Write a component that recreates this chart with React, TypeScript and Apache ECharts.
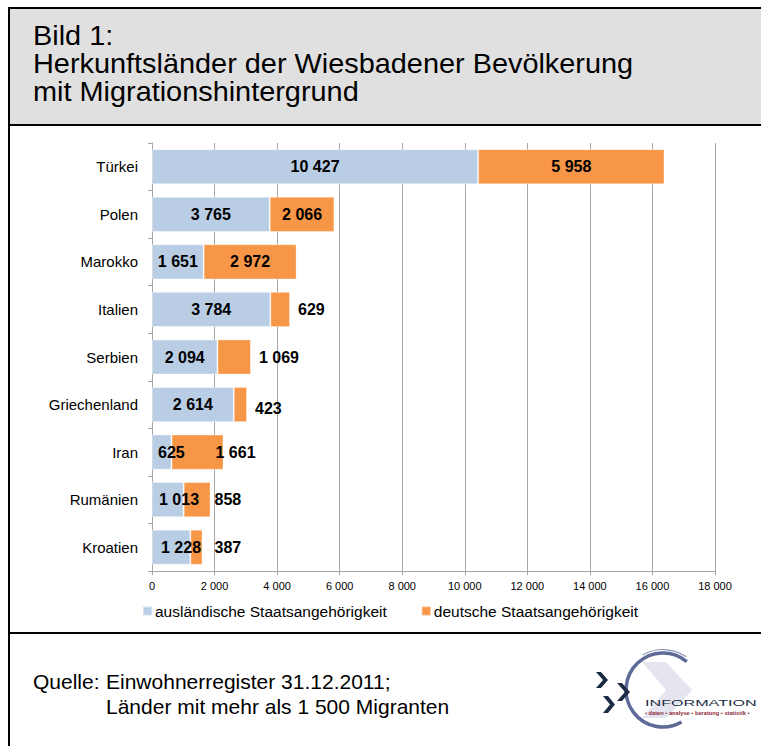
import React, { useEffect, useRef } from "react";
import * as echarts from "echarts";

const categories = ["Türkei", "Polen", "Marokko", "Italien", "Serbien", "Griechenland", "Iran", "Rumänien", "Kroatien"];
const foreignValues = [10427, 3765, 1651, 3784, 2094, 2614, 625, 1013, 1228];
const germanValues = [5958, 2066, 2972, 629, 1069, 423, 1661, 858, 387];
const seriesNames = ["ausländische Staatsangehörigkeit", "deutsche Staatsangehörigkeit"];
const xTicks = { min: 0, max: 18000, interval: 2000 };

const titleLines = ["Bild 1:", "Herkunftsländer der Wiesbadener Bevölkerung", "mit Migrationshintergrund"];
const sourceLabel = "Quelle:";
const sourceLines = ["Einwohnerregister 31.12.2011;", "Länder mit mehr als 1 500 Migranten"];

const fmt = (v: number) => String(v).replace(/\B(?=(\d{3})+(?!\d))/g, " ");

// label placement tweaks (style only)
const foreignLabelOverrides: Record<number, any> = {
  6: { position: "insideLeft", distance: 6 },
  7: { position: "insideLeft", distance: 7 },
  8: { position: "insideLeft", distance: 9 },
};
const germanLabelOverrides: Record<number, any> = {
  3: { position: "right", distance: 8 },
  4: { position: "right", distance: 8 },
  5: { position: "right", distance: 8, offset: [0, 4] },
  6: { position: "right", distance: -8 },
  7: { position: "right", distance: 4 },
  8: { position: "right", distance: 12 },
};

const FONT = "'Liberation Sans', Arial, Helvetica, sans-serif";

export default function App() {
  const ref = useRef<HTMLDivElement>(null);

  useEffect(() => {
    document.body.style.margin = "0";
    if (!ref.current) return;
    const chart = echarts.init(ref.current, undefined, { renderer: "svg" });

    const labelBase = {
      show: true,
      fontFamily: FONT,
      fontSize: 16,
      fontWeight: "bold",
      color: "#000",
      formatter: (p: any) => fmt(p.value),
    };

    const foreignData = foreignValues.map((v, i) =>
      foreignLabelOverrides[i] ? { value: v, label: foreignLabelOverrides[i] } : v
    );
    const germanData = germanValues.map((v, i) =>
      germanLabelOverrides[i] ? { value: v, label: germanLabelOverrides[i] } : v
    );

    const navy = "#1E2B47";
    const chevron = (x: number, y: number, w: number, h: number, t: number) => ({
      type: "polygon",
      shape: {
        points: [
          [x, y],
          [x + t, y],
          [x + w, y + h / 2],
          [x + t, y + h],
          [x, y + h],
          [x + w - t, y + h / 2],
        ],
      },
      style: { fill: navy },
      z: 3,
    });

    const titleTexts = titleLines.map((t, i) => ({
      type: "text",
      x: 33,
      y: 35.5 + i * 28,
      scaleX: 1.05,
      scaleY: 1,
      style: { text: t, font: `27.5px ${FONT}`, fill: "#000", textAlign: "left", textVerticalAlign: "middle" },
      z: 5,
    }));

    chart.setOption({
      animation: false,
      backgroundColor: "#fff",
      textStyle: { fontFamily: FONT },
      legend: {
        left: 142,
        top: 603,
        padding: 0,
        itemWidth: 9,
        itemHeight: 9,
        itemGap: 34,
        icon: "rect",
        textStyle: { fontFamily: FONT, fontSize: 15.5, color: "#000", padding: [0, 0, 0, -2] },
        data: seriesNames,
      },
      grid: { left: 152, right: 46, top: 143, bottom: 175, containLabel: false },
      xAxis: {
        type: "value",
        min: xTicks.min,
        max: xTicks.max,
        interval: xTicks.interval,
        axisLine: { show: true, lineStyle: { color: "#A6A6A6", width: 1 } },
        axisTick: { show: true, length: 4, lineStyle: { color: "#A6A6A6" } },
        splitLine: { show: true, lineStyle: { color: "#A6A6A6", width: 1 } },
        axisLabel: {
          fontFamily: FONT,
          fontSize: 11,
          color: "#000",
          margin: 9,
          formatter: (v: number) => fmt(v),
        },
      },
      yAxis: {
        type: "category",
        data: categories,
        inverse: true,
        axisLine: { show: true, lineStyle: { color: "#A6A6A6", width: 1 } },
        axisTick: { show: true, length: 4, lineStyle: { color: "#A6A6A6" } },
        axisLabel: { fontFamily: FONT, fontSize: 15, color: "#000", margin: 14 },
      },
      series: [
        {
          name: seriesNames[0],
          type: "bar",
          stack: "total",
          barCategoryGap: "26%",
          itemStyle: { color: "#B9CDE5", borderColor: "rgba(255,255,255,0.45)", borderWidth: 1 },
          label: { ...labelBase, position: "inside" },
          data: foreignData,
        },
        {
          name: seriesNames[1],
          type: "bar",
          stack: "total",
          barCategoryGap: "26%",
          itemStyle: { color: "#F79646", borderColor: "rgba(255,255,255,0.35)", borderWidth: 1 },
          label: { ...labelBase, position: "inside" },
          data: germanData,
        },
      ],
      graphic: [
        { type: "rect", shape: { x: 9, y: 8, width: 752, height: 117 }, style: { fill: "#E0E0E0" }, z: 0 },
        { type: "line", shape: { x1: 8, y1: 8, x2: 761, y2: 8 }, style: { stroke: "#000", lineWidth: 2 }, z: 2 },
        { type: "line", shape: { x1: 9, y1: 7, x2: 9, y2: 746 }, style: { stroke: "#000", lineWidth: 2 }, z: 2 },
        { type: "line", shape: { x1: 9, y1: 125, x2: 761, y2: 125 }, style: { stroke: "#000", lineWidth: 2 }, z: 2 },
        { type: "line", shape: { x1: 9, y1: 633, x2: 761, y2: 633 }, style: { stroke: "#000", lineWidth: 2 }, z: 2 },
        ...titleTexts,
        {
          type: "text",
          x: 33,
          y: 681,
          style: { text: sourceLabel, font: `21px ${FONT}`, fill: "#000", textAlign: "left", textVerticalAlign: "middle" },
          z: 2,
        },
        {
          type: "text",
          x: 106,
          y: 681,
          style: { text: sourceLines[0], font: `21px ${FONT}`, fill: "#000", textAlign: "left", textVerticalAlign: "middle" },
          z: 2,
        },
        {
          type: "text",
          x: 106,
          y: 706,
          style: { text: sourceLines[1], font: `21px ${FONT}`, fill: "#000", textAlign: "left", textVerticalAlign: "middle" },
          z: 2,
        },
        // logo
        {
          type: "polygon",
          shape: { points: [[642, 662], [666, 662], [692, 690], [666, 718], [642, 718], [666, 690]] },
          style: { fill: "#E4E5EE" },
          z: 1,
        },
        {
          type: "arc",
          shape: { cx: 663, cy: 690, r: 37, startAngle: Math.PI / 3, endAngle: (310 / 180) * Math.PI, clockwise: true },
          style: { stroke: "#5E6A98", lineWidth: 3.5, fill: "none" },
          z: 2,
        },
        {
          type: "arc",
          shape: { cx: 663, cy: 690, r: 40.5, startAngle: (240 / 180) * Math.PI, endAngle: (305 / 180) * Math.PI, clockwise: true },
          style: { stroke: "#8E97BC", lineWidth: 1.2, fill: "none" },
          z: 2,
        },
        chevron(596, 672, 12, 16, 5),
        chevron(603, 696, 12, 17, 5),
        chevron(617, 683, 13, 18, 5),
        {
          type: "text",
          x: 645,
          y: 703,
          scaleX: 1.7,
          scaleY: 1,
          style: { text: "INFORMATION", font: `9.5px ${FONT}`, fill: navy, textAlign: "left", textVerticalAlign: "middle" },
          z: 4,
        },
        {
          type: "text",
          x: 645,
          y: 713,
          style: {
            text: "• daten • analyse • beratung • statistik •",
            font: `bold 5.7px ${FONT}`,
            fill: "#8E2A3A",
            textAlign: "left",
            textVerticalAlign: "middle",
          },
          z: 4,
        },
      ],
    });

    return () => chart.dispose();
  }, []);

  return <div ref={ref} style={{ width: 761, height: 746 }} />;
}
